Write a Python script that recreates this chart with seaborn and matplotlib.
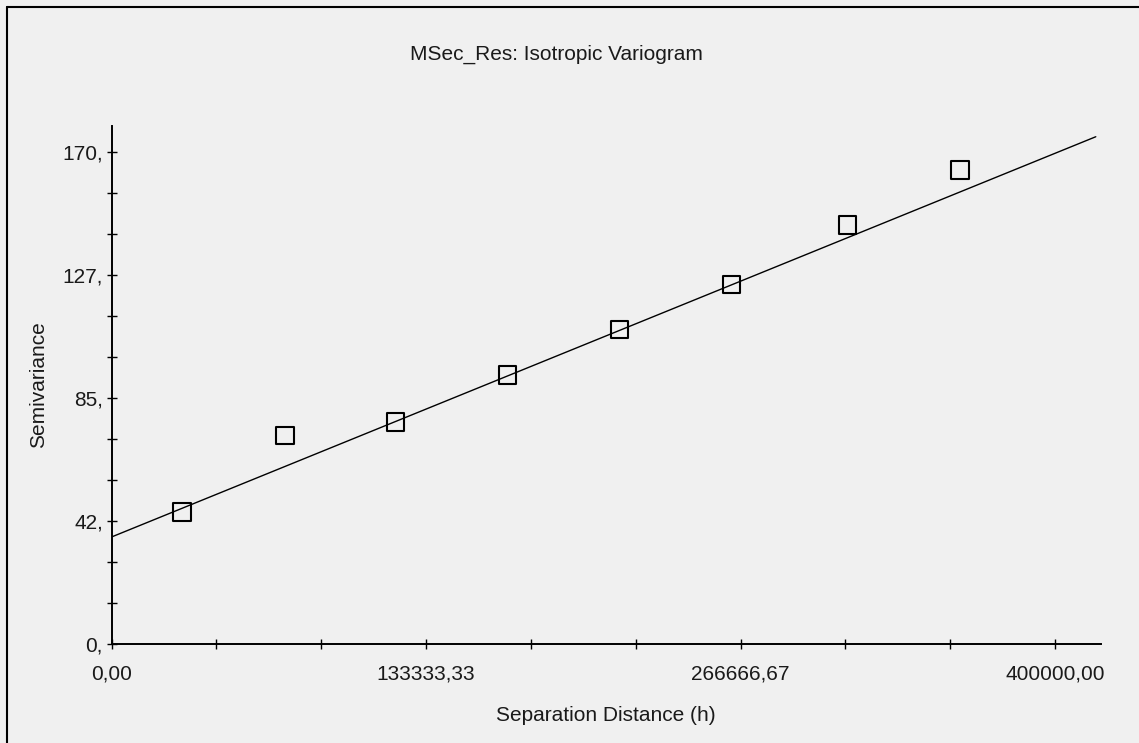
import numpy as np
import pandas as pd
import matplotlib
matplotlib.use("Agg")
import matplotlib.pyplot as plt
import seaborn as sns
from matplotlib.ticker import FixedLocator, FixedFormatter, MultipleLocator
from matplotlib.lines import Line2D

# Experimental variogram (lag distance vs semivariance)
lag_distance = [29800, 73500, 120300, 167800, 215300, 262900, 312100, 359800]
semivariance = [45.6, 72.0, 76.7, 93.0, 108.7, 124.3, 144.7, 163.8]

# Linear variogram model: nugget + slope * h
model_nugget = 37.0
model_slope = 3.314e-4
model_range = [0.0, 417300.0]

x_ticks = [0.0, 133333.33, 266666.67, 400000.0]
x_tick_labels = ["0,00", "133333,33", "266666,67", "400000,00"]
y_ticks = [0.0, 42.5, 85.0, 127.5, 170.0]
y_tick_labels = ["0,", "42,", "85,", "127,", "170,"]

sns.set_theme(style="white")
plt.rcParams["font.family"] = ["Liberation Sans", "DejaVu Sans"]

bg = "#f0f0f0"
fig = plt.figure(figsize=(11.39, 7.43), dpi=100, facecolor=bg)
ax = fig.add_axes([0.098, 0.1332, 0.8684, 0.6972])
ax.set_facecolor(bg)

pts = pd.DataFrame({"h": lag_distance, "gamma": semivariance})
h_line = np.array(model_range)
model = pd.DataFrame({"h": h_line, "gamma": model_nugget + model_slope * h_line})

sns.lineplot(data=model, x="h", y="gamma", ax=ax, color="black", linewidth=1.0)
sns.scatterplot(data=pts, x="h", y="gamma", ax=ax, marker="s", s=160,
                facecolor="none", edgecolor="black", linewidth=1.5, zorder=3)

ax.set_xlim(0, 419400)
ax.set_ylim(0, 179)

ax.xaxis.set_major_locator(FixedLocator(x_ticks))
ax.xaxis.set_major_formatter(FixedFormatter(x_tick_labels))
ax.xaxis.set_minor_locator(MultipleLocator(400000.0 / 9))
ax.yaxis.set_major_locator(FixedLocator(y_ticks))
ax.yaxis.set_major_formatter(FixedFormatter(y_tick_labels))
ax.yaxis.set_minor_locator(MultipleLocator(170.0 / 12))

for side in ["top", "right"]:
    ax.spines[side].set_visible(False)
for side in ["left", "bottom"]:
    ax.spines[side].set_color("black")
    ax.spines[side].set_linewidth(1.4)

ax.tick_params(which="both", direction="inout", length=6.5, width=1.0,
               color="black", labelsize=15, labelcolor="#1a1a1a",
               bottom=True, left=True, top=False, right=False)
ax.tick_params(axis="x", which="major", pad=11.5)
ax.tick_params(axis="y", which="major", pad=3)

ax.set_xlabel("Separation Distance (h)", fontsize=15, color="#1a1a1a", labelpad=16)
ax.set_ylabel("Semivariance", fontsize=15, color="#1a1a1a", labelpad=10.5)

fig.text(556 / 1139, 1 - 54 / 743, "MSec_Res: Isotropic Variogram",
         ha="center", va="center", fontsize=15, color="#1a1a1a")

# Window frame on the left and top edges
fig.add_artist(Line2D([6.5 / 1139, 6.5 / 1139], [0, 1 - 7 / 743],
                      transform=fig.transFigure, color="black", linewidth=1.5))
fig.add_artist(Line2D([6.5 / 1139, 1], [1 - 7 / 743, 1 - 7 / 743],
                      transform=fig.transFigure, color="black", linewidth=1.5))

fig.savefig("out.png", dpi=100, facecolor=bg)
